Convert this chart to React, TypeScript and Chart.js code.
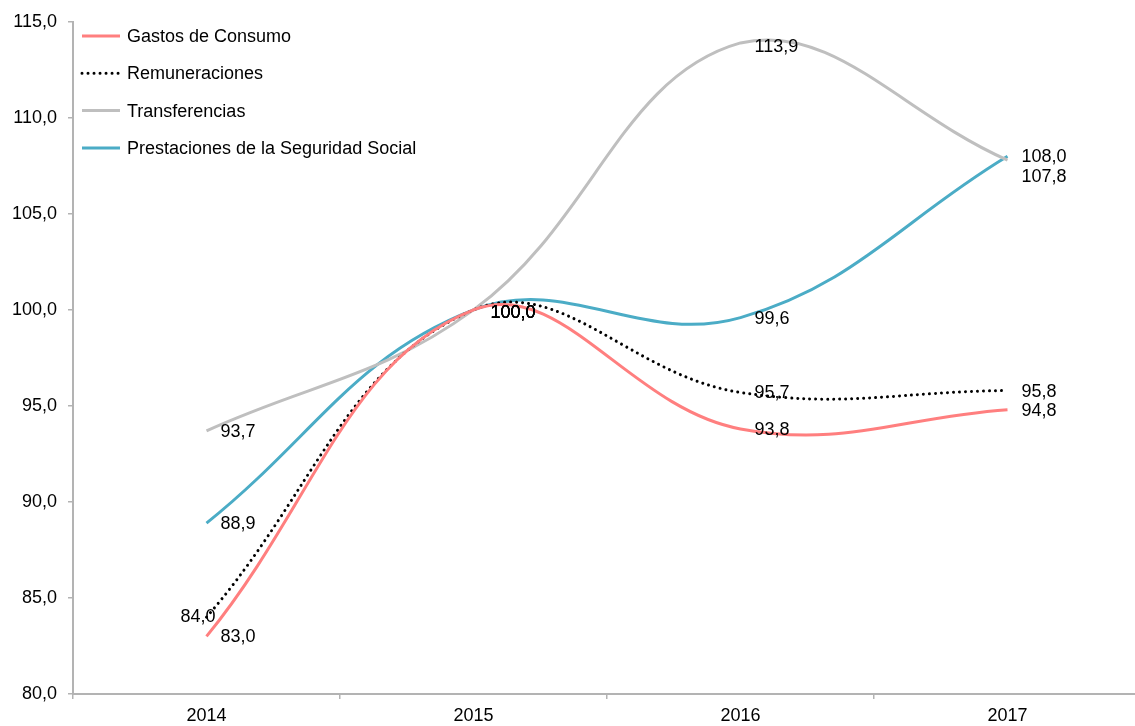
import React, { useEffect, useRef } from "react";
import { Chart, registerables } from "chart.js";

Chart.register(...registerables);

const categories = ["2014", "2015", "2016", "2017"];
const gastosConsumo = [83.0, 100.0, 93.8, 94.8];
const remuneraciones = [84.0, 100.0, 95.7, 95.8];
const transferencias = [93.7, 100.0, 113.9, 107.8];
const prestaciones = [88.9, 100.0, 99.6, 108.0];
const seriesNames = [
  "Gastos de Consumo",
  "Remuneraciones",
  "Transferencias",
  "Prestaciones de la Seguridad Social",
];
const yTicks = [80, 85, 90, 95, 100, 105, 110, 115];

const FONT = "Arial, 'Liberation Sans', sans-serif";
const fmt = (v: number) => v.toFixed(1).replace(".", ",");

// label placement tweaks: key "dataset-index"
const labelTweaks: Record<string, { dx?: number; dy?: number; align?: CanvasTextAlign }> = {
  "1-0": { dx: 9, dy: 0, align: "right" },
  "2-2": { dy: 4 },
  "2-3": { dy: 17 },
  "0-1": { dx: 17, dy: 3 },
  "1-1": { dx: 17, dy: 3 },
  "2-1": { dx: 17, dy: 3 },
  "3-1": { dx: 17, dy: 3 },
};

const labelsPlugin = {
  id: "valueLabels",
  afterDatasetsDraw(chart: any) {
    const ctx = chart.ctx;
    ctx.save();
    ctx.font = `18px ${FONT}`;
    ctx.fillStyle = "#000";
    ctx.textBaseline = "middle";
    chart.data.datasets.forEach((ds: any, di: number) => {
      const meta = chart.getDatasetMeta(di);
      meta.data.forEach((pt: any, i: number) => {
        const t = labelTweaks[`${di}-${i}`] || {};
        ctx.textAlign = t.align || "left";
        const dx = t.dx ?? 14;
        const dy = t.dy ?? 1;
        ctx.fillText(fmt(ds.data[i]), pt.x + dx, pt.y + dy);
      });
    });
    ctx.restore();
  },
};

const legendPlugin = {
  id: "insideLegend",
  afterDraw(chart: any) {
    const ctx = chart.ctx;
    ctx.save();
    ctx.font = `18px ${FONT}`;
    ctx.textBaseline = "middle";
    ctx.textAlign = "left";
    chart.data.datasets.forEach((ds: any, i: number) => {
      const y = 36 + i * 37.3;
      ctx.beginPath();
      ctx.strokeStyle = ds.borderColor;
      ctx.lineWidth = ds.borderWidth;
      ctx.lineCap = ds.borderCapStyle || "butt";
      ctx.setLineDash(ds.borderDash || []);
      ctx.moveTo(82, y);
      ctx.lineTo(120, y);
      ctx.stroke();
      ctx.setLineDash([]);
      ctx.fillStyle = "#000";
      ctx.fillText(ds.label, 127, y + 1);
    });
    ctx.restore();
  },
};

export default function App() {
  const ref = useRef<HTMLCanvasElement | null>(null);

  useEffect(() => {
    if (!ref.current) return;
    const axisColor = "#B3B3B3";
    const chart = new Chart(ref.current, {
      type: "line",
      data: {
        labels: categories,
        datasets: [
          {
            label: seriesNames[0],
            data: gastosConsumo,
            borderColor: "#FF7F7F",
            borderWidth: 3,
            pointRadius: 0,
            tension: 0.4,
          },
          {
            label: seriesNames[1],
            data: remuneraciones,
            borderColor: "#000000",
            borderWidth: 3,
            borderDash: [0.01, 6],
            borderCapStyle: "round",
            pointRadius: 0,
            tension: 0.4,
          },
          {
            label: seriesNames[2],
            data: transferencias,
            borderColor: "#BFBFBF",
            borderWidth: 3,
            pointRadius: 0,
            tension: 0.4,
          },
          {
            label: seriesNames[3],
            data: prestaciones,
            borderColor: "#4BACC6",
            borderWidth: 3,
            pointRadius: 0,
            tension: 0.4,
          },
        ],
      },
      options: {
        animation: false,
        responsive: true,
        maintainAspectRatio: false,
        layout: { padding: { top: 19, left: 0, right: 0, bottom: 0 } },
        plugins: {
          legend: { display: false },
          tooltip: { enabled: false },
        },
        scales: {
          x: {
            type: "category",
            offset: true,
            grid: {
              offset: true,
              drawOnChartArea: false,
              tickLength: 5,
              color: axisColor,
              lineWidth: 1.5,
            },
            border: { color: axisColor, width: 2 },
            ticks: {
              color: "#000",
              font: { family: FONT, size: 18 },
              padding: 6,
              maxRotation: 0,
            },
            afterFit(scale: any) {
              scale.height = 32;
            },
          },
          y: {
            min: 80,
            max: 115,
            afterBuildTicks(scale: any) {
              scale.ticks = yTicks.map((v) => ({ value: v }));
            },
            grid: {
              drawOnChartArea: false,
              tickLength: 5,
              color: axisColor,
              lineWidth: 1.5,
            },
            border: { color: axisColor, width: 2 },
            ticks: {
              color: "#000",
              font: { family: FONT, size: 18 },
              padding: 11,
              callback: (v: any) => fmt(Number(v)),
            },
            afterFit(scale: any) {
              scale.width = 73;
            },
          },
        },
      } as any,
      plugins: [labelsPlugin, legendPlugin],
    });
    return () => chart.destroy();
  }, []);

  return (
    <div
      style={{
        position: "fixed",
        left: 0,
        top: 0,
        width: 1135,
        height: 726,
        overflow: "hidden",
        background: "#fff",
      }}
    >
      <div style={{ position: "relative", width: 1141, height: 726 }}>
        <canvas ref={ref} />
      </div>
    </div>
  );
}
